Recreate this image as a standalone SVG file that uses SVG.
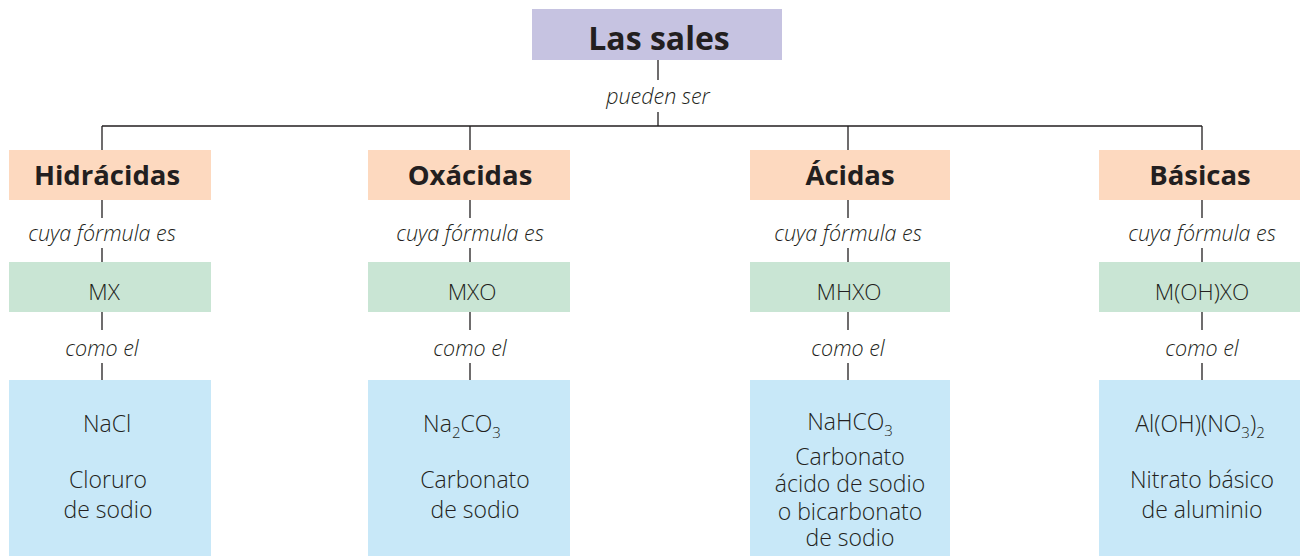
<svg xmlns="http://www.w3.org/2000/svg" width="1300" height="556" viewBox="0 0 1300 556">
<style>
text{font-family:"Open Sans","Noto Sans","Liberation Sans",sans-serif;fill:#231f20;text-anchor:middle;font-weight:300}
.t{font-size:32px;font-weight:bold}
.h{font-size:27.5px;font-weight:bold}
.l{font-size:21.5px;font-style:italic}
.f{font-size:22.5px}
.e{font-size:23px}
.s{font-size:15px}
.ln{stroke:#231f20;stroke-width:1.3;fill:none}
.p{fill:#c6c3e1}.o{fill:#fdd9bf}.g{fill:#c9e5d4}.b{fill:#c8e8f8}
</style>
<g id="connectors">
<path class="ln" d="M658 60V80M658 112V126M102 126H1202M102 126V150M470 126V150M848 126V150M1202 126V150"/>
<path class="ln" d="M102 200V218M102 248V262M102 312V330M102 363V380"/>
<path class="ln" d="M470 200V218M470 248V262M470 312V330M470 363V380"/>
<path class="ln" d="M848 200V218M848 248V262M848 312V330M848 363V380"/>
<path class="ln" d="M1202 200V218M1202 248V262M1202 312V330M1202 363V380"/>
<text class="l" x="658" y="104">pueden ser</text>
<text class="l" x="102" y="241">cuya fórmula es</text>
<text class="l" x="470" y="241">cuya fórmula es</text>
<text class="l" x="848" y="241">cuya fórmula es</text>
<text class="l" x="1202" y="241">cuya fórmula es</text>
<text class="l" x="102" y="356">como el</text>
<text class="l" x="470" y="356">como el</text>
<text class="l" x="848" y="356">como el</text>
<text class="l" x="1202" y="356">como el</text>
</g>
<g id="sales"><rect class="p" x="532" y="9" width="250" height="51"/><text class="t" x="659" y="50">Las sales</text></g>
<g id="hidracidas"><rect class="o" x="9" y="150" width="202" height="50"/><text class="h" x="107" y="185">Hidrácidas</text></g>
<g id="oxacidas"><rect class="o" x="368" y="150" width="202" height="50"/><text class="h" x="470" y="185">Oxácidas</text></g>
<g id="acidas"><rect class="o" x="750" y="150" width="200" height="50"/><text class="h" x="850" y="185">Ácidas</text></g>
<g id="basicas"><rect class="o" x="1099" y="150" width="201" height="50"/><text class="h" x="1200" y="185">Básicas</text></g>
<g id="mx"><rect class="g" x="9" y="262" width="202" height="50"/><text class="f" x="104" y="300">MX</text></g>
<g id="mxo"><rect class="g" x="368" y="262" width="202" height="50"/><text class="f" x="472" y="300">MXO</text></g>
<g id="mhxo"><rect class="g" x="750" y="262" width="200" height="50"/><text class="f" x="849" y="300">MHXO</text></g>
<g id="mohxo"><rect class="g" x="1099" y="262" width="201" height="50"/><text class="f" x="1202" y="300">M(OH)XO</text></g>
<g id="nacl"><rect class="b" x="9" y="380" width="202" height="176"/>
<text class="e" x="107" y="432">NaCl</text>
<text class="e" x="108" y="488">Cloruro</text>
<text class="e" x="108" y="518">de sodio</text></g>
<g id="na2co3"><rect class="b" x="368" y="380" width="202" height="176"/>
<text class="e" x="462" y="432">Na<tspan class="s" dy="6">2</tspan><tspan dy="-6">CO</tspan><tspan class="s" dy="6">3</tspan></text>
<text class="e" x="475" y="488">Carbonato</text>
<text class="e" x="475" y="518">de sodio</text></g>
<g id="nahco3"><rect class="b" x="750" y="380" width="200" height="176"/>
<text class="e" x="850" y="430">NaHCO<tspan class="s" dy="6">3</tspan></text>
<text class="e" x="850" y="465">Carbonato</text>
<text class="e" x="850" y="492">ácido de sodio</text>
<text class="e" x="850" y="520">o bicarbonato</text>
<text class="e" x="850" y="546">de sodio</text></g>
<g id="aloh"><rect class="b" x="1099" y="380" width="201" height="176"/>
<text class="e" x="1200" y="432">Al(OH)(NO<tspan class="s" dy="6">3</tspan><tspan dy="-6">)</tspan><tspan class="s" dy="6">2</tspan></text>
<text class="e" x="1202" y="488">Nitrato básico</text>
<text class="e" x="1202" y="518">de aluminio</text></g>
</svg>
